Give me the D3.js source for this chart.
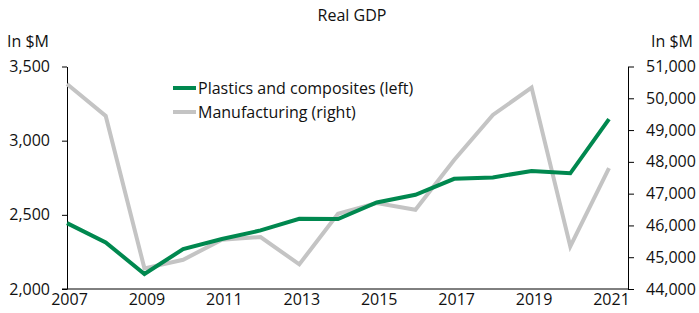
<!DOCTYPE html>
<html>
<head>
<meta charset="utf-8">
<title>Real GDP</title>
<script src="https://cdn.jsdelivr.net/npm/d3@7"></script>
<style>
  body { margin: 0; background: #fff; }
  text { font-family: "Open Sans", sans-serif; fill: #111; }
</style>
</head>
<body>
<svg id="chart" width="699" height="313"></svg>
<script>
  // data
  var years = [2007, 2008, 2009, 2010, 2011, 2012, 2013, 2014, 2015, 2016, 2017, 2018, 2019, 2020, 2021];
  var plastics = [2444, 2314, 2101, 2269, 2337, 2395, 2473, 2472, 2583, 2635, 2743, 2752, 2796, 2780, 3145];
  var manufacturing = [50450, 49445, 44650, 44920, 45550, 45635, 44775, 46366, 46702, 46492, 48060, 49476, 50335, 45340, 47800];
  var leftTicks = [2000, 2500, 3000, 3500];
  var rightTicks = [44000, 45000, 46000, 47000, 48000, 49000, 50000, 51000];
  var xTicks = [2007, 2009, 2011, 2013, 2015, 2017, 2019, 2021];

  var svg = d3.select("#chart");
  var fmt = d3.format(",");

  var x = d3.scaleLinear().domain([2007, 2021]).range([67, 609]);
  var yL = d3.scaleLinear().domain([2000, 3500]).range([289, 66.5]);
  var yR = d3.scaleLinear().domain([44000, 51000]).range([289, 66.5]);

  /* title and unit labels */
  svg.append("text").attr("x", 352).attr("y", 21).attr("text-anchor", "middle")
    .style("font-size", "16px").text("Real GDP");
  svg.append("text").attr("x", 7).attr("y", 47).style("font-size", "16px").text("In $M");
  svg.append("text").attr("x", 693).attr("y", 47).attr("text-anchor", "end")
    .style("font-size", "16px").text("In $M");

  /* left axis */
  var gl = svg.append("g").attr("transform", "translate(67,0)")
    .call(d3.axisLeft(yL).tickValues(leftTicks).tickFormat(fmt).tickSize(5).tickSizeOuter(0).tickPadding(12));
  /* right axis */
  var gr = svg.append("g").attr("transform", "translate(628,0)")
    .call(d3.axisRight(yR).tickValues(rightTicks).tickFormat(fmt).tickSize(6).tickSizeOuter(0).tickPadding(12));
  /* bottom axis */
  var gb = svg.append("g").attr("transform", "translate(2,289)")
    .call(d3.axisBottom(x).tickValues(xTicks).tickFormat(d3.format("d")).tickSize(0).tickPadding(5));
  gb.select(".domain").remove();
  svg.append("line").attr("x1", 62).attr("x2", 628).attr("y1", 289).attr("y2", 289)
    .attr("stroke", "#000").attr("stroke-width", 1);

  [gl, gr, gb].forEach(function (g) {
    g.selectAll("text").style("font-size", "16px").style("font-family", "'Open Sans', sans-serif").attr("fill", "#111");
    g.selectAll("path, line").attr("stroke", "#000");
  });

  /* lines */
  var lineL = d3.line().x(function (d, i) { return x(years[i]); }).y(function (d) { return yL(d); });
  var lineR = d3.line().x(function (d, i) { return x(years[i]); }).y(function (d) { return yR(d); });

  svg.append("path").datum(manufacturing).attr("d", lineR)
    .attr("fill", "none").attr("stroke", "#c4c4c4").attr("stroke-width", 4);
  svg.append("path").datum(plastics).attr("d", lineL)
    .attr("fill", "none").attr("stroke", "#00884f").attr("stroke-width", 4);

  /* legend */
  var legend = [
    { label: "Plastics and composites (left)", color: "#00884f", y: 88 },
    { label: "Manufacturing (right)", color: "#c4c4c4", y: 112 }
  ];
  legend.forEach(function (l) {
    svg.append("line").attr("x1", 173).attr("x2", 196).attr("y1", l.y).attr("y2", l.y)
      .attr("stroke", l.color).attr("stroke-width", 4);
    svg.append("text").attr("x", 198).attr("y", l.y + 6).style("font-size", "16px").text(l.label);
  });
</script>
</body>
</html>
